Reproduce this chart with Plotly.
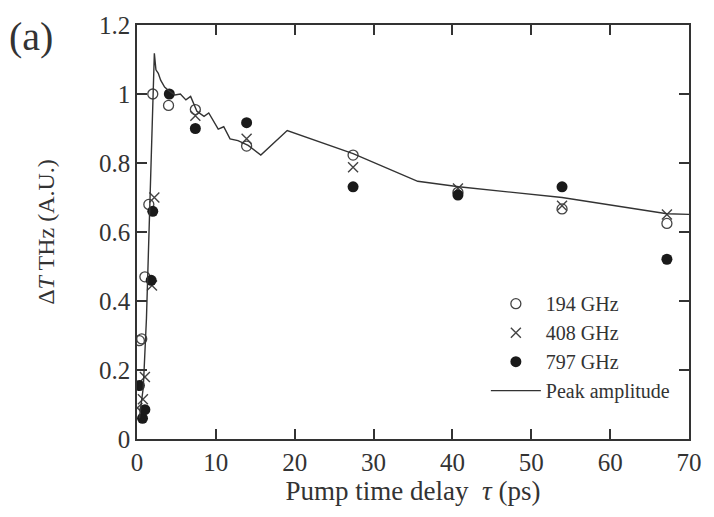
import plotly.graph_objects as go

# 194 GHz (open circles)
x194 = [0.3, 0.6, 1.0, 1.5, 2.0, 4.0, 7.4, 13.9, 27.4, 40.7, 53.9, 67.2]
y194 = [0.285, 0.29, 0.47, 0.68, 1.0, 0.967, 0.955, 0.849, 0.823, 0.715, 0.667, 0.625]

# 408 GHz (crosses)
x408 = [0.05, 0.75, 1.0, 1.9, 2.2, 7.4, 13.9, 27.4, 40.7, 53.9, 67.2]
y408 = [0.09, 0.115, 0.18, 0.445, 0.70, 0.937, 0.87, 0.788, 0.726, 0.676, 0.651]

# 797 GHz (filled circles)
x797 = [0.3, 0.7, 1.0, 1.8, 2.0, 4.1, 7.4, 13.9, 27.4, 40.7, 53.9, 67.2]
y797 = [0.155, 0.06, 0.085, 0.46, 0.66, 1.0, 0.90, 0.917, 0.731, 0.707, 0.731, 0.521]

# Peak amplitude (line)
xpk = [0.3, 0.8, 1.2, 1.5, 1.8, 2.0, 2.2, 2.4, 2.7, 3.0, 3.5, 4.0, 4.8, 5.5, 6.2, 6.8,
       7.6, 8.5, 9.1, 10.3, 11.0, 11.8, 12.8, 14.1, 15.7, 19.05, 27.4, 35.6, 40.8, 53.9, 67.2, 70]
ypk = [0.06, 0.15, 0.35, 0.6, 0.85, 1.0, 1.118, 1.07, 1.06, 1.04, 1.02, 1.01, 0.997, 1.0, 0.983, 0.993,
       0.95, 0.935, 0.945, 0.898, 0.905, 0.87, 0.865, 0.851, 0.823, 0.894, 0.827, 0.747, 0.731, 0.70, 0.653, 0.651]

xticks = [0, 10, 20, 30, 40, 50, 60, 70]
yticks = [0, 0.2, 0.4, 0.6, 0.8, 1.0, 1.2]
ytext = ["0", "0.2", "0.4", "0.6", "0.8", "1", "1.2"]

FONT = "Liberation Serif"
INK = "#333333"

fig = go.Figure()
fig.add_trace(go.Scatter(x=x194, y=y194, mode="markers", name="194 GHz",
                         marker=dict(symbol="circle-open", size=10, color="#444",
                                     line=dict(width=1.3, color="#444"))))
fig.add_trace(go.Scatter(x=x408, y=y408, mode="markers", name="408 GHz",
                         marker=dict(symbol="x-thin-open", size=10, color="#444",
                                     line=dict(width=1.4, color="#444"))))
fig.add_trace(go.Scatter(x=x797, y=y797, mode="markers", name="797 GHz",
                         marker=dict(symbol="circle", size=11, color="#1a1a1a")))
fig.add_trace(go.Scatter(x=xpk, y=ypk, mode="lines", name="Peak amplitude",
                         line=dict(color="#333", width=1.4)))

axis_common = dict(showline=True, linecolor=INK, linewidth=1.5, mirror="ticks",
                   ticks="inside", ticklen=10, tickwidth=1.5, tickcolor=INK,
                   showgrid=False, zeroline=False,
                   tickfont=dict(family=FONT, size=25, color=INK))

fig.update_xaxes(range=[0, 70], tickvals=xticks,
                 title=dict(text="Pump time delay  <i>τ</i> (ps)",
                            font=dict(family=FONT, size=27, color=INK), standoff=4),
                 **axis_common)
fig.update_yaxes(range=[0, 1.2], tickvals=yticks, ticktext=ytext,
                 title=dict(text="Δ<i>T</i> THz (A.U.)",
                            font=dict(family=FONT, size=24, color=INK), standoff=38),
                 **axis_common)

fig.add_annotation(text="(a)", xref="paper", yref="paper", x=-0.235, y=0.972,
                   xanchor="left", yanchor="middle", showarrow=False,
                   font=dict(family=FONT, size=40, color=INK))

fig.update_layout(
    width=714, height=517,
    margin=dict(l=137, r=15, t=15, b=78),
    paper_bgcolor="white", plot_bgcolor="white",
    showlegend=True,
    legend=dict(x=0.632, y=0.374, xanchor="left", yanchor="top",
                bgcolor="rgba(0,0,0,0)", borderwidth=0,
                font=dict(family=FONT, size=20, color=INK),
                tracegroupgap=0, itemwidth=50),
)

fig.write_html("out.html")
